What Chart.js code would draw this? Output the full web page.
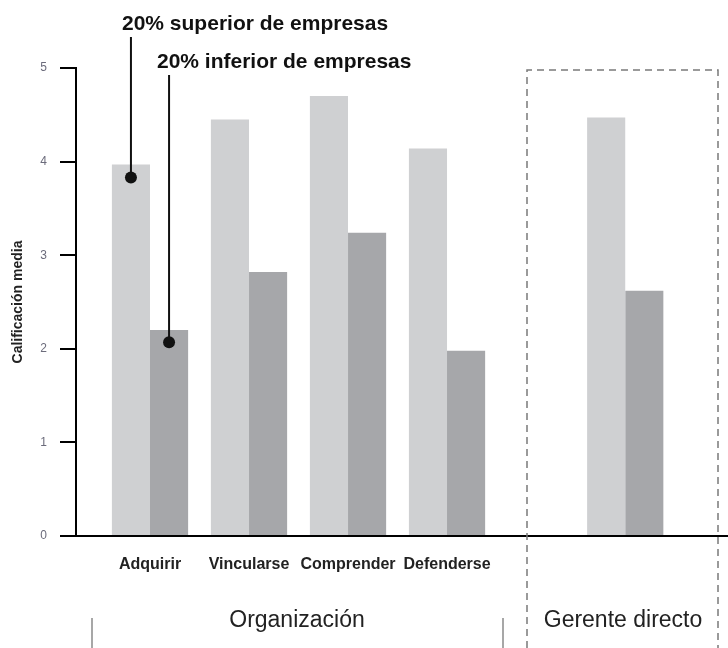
<!DOCTYPE html>
<html lang="es">
<head>
<meta charset="utf-8">
<title>Calificación media</title>
<script src="https://cdn.jsdelivr.net/npm/chart.js@4.4.1/dist/chart.umd.min.js"></script>
<style>
    html, body { margin: 0; padding: 0; background: #ffffff; }
    #wrap { width: 728px; height: 648px; position: relative; }
</style>
</head>
<body>
<div id="wrap"><canvas id="resultsChart"></canvas></div>
<script>
// categories and their slot on the x axis (Gerente directo sits apart, after a gap)
const categories = ['Adquirir', 'Vincularse', 'Comprender', 'Defenderse', ''];
const groupSlot = [0, 1, 2, 3, 4.8];
const topCompanies = [3.97, 4.45, 4.70, 4.14, 4.47];
const bottomCompanies = [2.20, 2.82, 3.24, 1.98, 2.62];
const yTicks = [0, 1, 2, 3, 4, 5];

const FONT = "'Liberation Sans', Arial, sans-serif";
Chart.defaults.font.family = FONT;

const decorations = {
    id: 'decorations',
    afterDraw(chart) {
        const ctx = chart.ctx;
        const y = chart.scales.y;
        const topBar = chart.getDatasetMeta(0).data[0];
        const lowBar = chart.getDatasetMeta(1).data[0];

        ctx.save();

        // dashed box round "Gerente directo"
        ctx.strokeStyle = '#7a7a7a';
        ctx.lineWidth = 1.5;
        ctx.setLineDash([7, 5]);
        ctx.beginPath();
        ctx.moveTo(527, 648);
        ctx.lineTo(527, 70);
        ctx.lineTo(718, 70);
        ctx.lineTo(718, 648);
        ctx.stroke();
        ctx.setLineDash([]);

        // bracket ends under "Organización"
        ctx.strokeStyle = '#8a8a8a';
        ctx.beginPath();
        ctx.moveTo(92, 618); ctx.lineTo(92, 648);
        ctx.moveTo(503, 618); ctx.lineTo(503, 648);
        ctx.stroke();

        // group labels
        ctx.fillStyle = '#222';
        ctx.font = '23px ' + FONT;
        ctx.textAlign = 'center';
        ctx.textBaseline = 'alphabetic';
        ctx.fillText('Organización', 297, 627);
        ctx.fillText('Gerente directo', 623, 627);

        // legend callouts
        ctx.textAlign = 'left';
        ctx.font = 'bold 21px ' + FONT;
        ctx.fillStyle = '#111';
        ctx.fillText('20% superior de empresas', 122, 30);
        ctx.fillText('20% inferior de empresas', 157, 68);

        const dot1 = { x: topBar.x, y: y.getPixelForValue(3.83) };
        const dot2 = { x: lowBar.x, y: y.getPixelForValue(2.07) };
        ctx.strokeStyle = '#111';
        ctx.lineWidth = 2;
        ctx.beginPath();
        ctx.moveTo(dot1.x, 37); ctx.lineTo(dot1.x, dot1.y);
        ctx.moveTo(dot2.x, 75); ctx.lineTo(dot2.x, dot2.y);
        ctx.stroke();
        [dot1, dot2].forEach(d => {
            ctx.beginPath();
            ctx.arc(d.x, d.y, 6, 0, Math.PI * 2);
            ctx.fill();
        });

        ctx.restore();
    }
};

const ctx = document.getElementById('resultsChart').getContext('2d');
new Chart(ctx, {
    type: 'bar',
    data: {
        datasets: [
            {
                label: '20% superior de empresas',
                data: groupSlot.map((s, i) => ({ x: s, y: topCompanies[i] })),
                backgroundColor: '#cfd0d2'
            },
            {
                label: '20% inferior de empresas',
                data: groupSlot.map((s, i) => ({ x: s, y: bottomCompanies[i] })),
                backgroundColor: '#a6a7aa'
            }
        ]
    },
    options: {
        responsive: true,
        maintainAspectRatio: false,
        animation: false,
        categoryPercentage: 0.77,
        barPercentage: 1,
        layout: { padding: { left: 0, right: 0, top: 68, bottom: 72 } },
        plugins: {
            legend: { display: false },
            tooltip: { enabled: false }
        },
        scales: {
            x: {
                type: 'linear',
                offset: false,
                min: -0.7475,
                max: 5.838,
                grid: { display: false, drawTicks: false },
                border: { display: true, color: '#000', width: 2 },
                afterBuildTicks: scale => {
                    scale.ticks = categories
                        .map((c, i) => ({ value: groupSlot[i], label: c }))
                        .filter(t => t.label !== '');
                },
                afterFit: scale => { scale.height = 40; },
                ticks: {
                    padding: 19,
                    color: '#222',
                    font: { size: 16, weight: 'bold' },
                    callback: value => categories[groupSlot.indexOf(value)]
                }
            },
            y: {
                min: 0,
                max: 5,
                afterBuildTicks: scale => {
                    scale.ticks = yTicks.map(v => ({ value: v }));
                },
                afterFit: scale => { scale.width = 76; },
                grid: {
                    drawOnChartArea: false,
                    drawTicks: true,
                    tickLength: 16,
                    color: '#000',
                    lineWidth: 2
                },
                border: { display: true, color: '#000', width: 2 },
                ticks: {
                    padding: 13,
                    color: '#6b6b7b',
                    font: { size: 12 }
                },
                title: {
                    display: true,
                    text: 'Calificación media',
                    color: '#222',
                    font: { size: 14, weight: 'bold' },
                    padding: { top: 10, bottom: 0 }
                }
            }
        }
    },
    plugins: [decorations]
});
</script>
</body>
</html>
